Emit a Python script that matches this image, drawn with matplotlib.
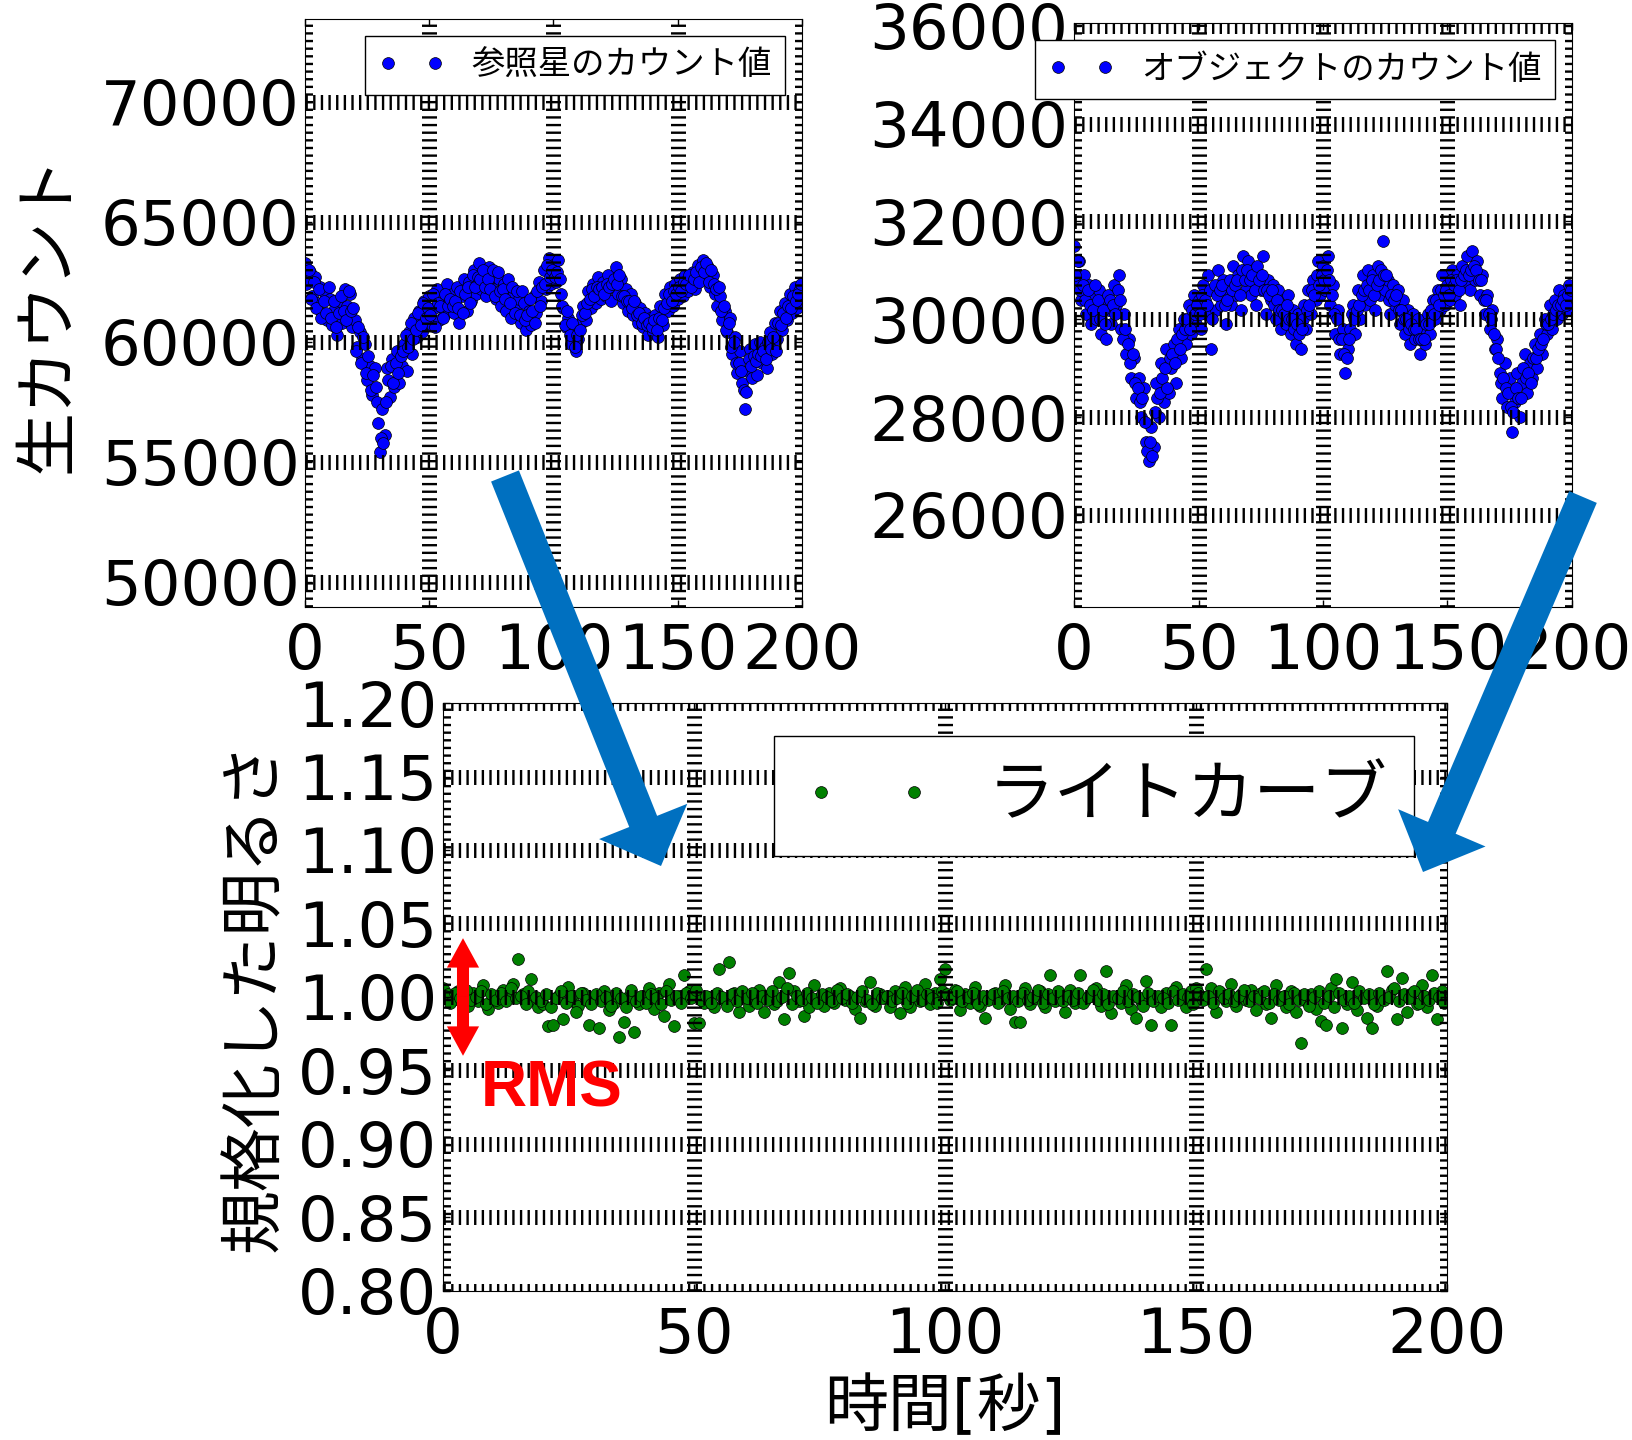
import numpy as np
import matplotlib.pyplot as plt
from matplotlib.patches import FancyArrow

plt.rcParams['font.family'] = ['DejaVu Sans', 'Noto Sans CJK JP']
plt.rcParams['lines.scale_dashes'] = False

# 時刻 [秒]：整数秒と、その間の 0.5 秒
time_s = np.arange(0, 201)
time_half = np.arange(0.5, 200, 1.0)

# 参照星のカウント値（整数秒）
ref_counts = [
    63300, 62600, 62900, 61900, 62700, 61600, 62300, 61200, 62000, 60900,
    61800, 60700, 61400, 60300, 61700, 60800, 62200, 61500, 62000, 60600,
    60900, 59800, 60400, 59300, 59900, 58400, 59000, 57800, 58900, 57500,
    55400, 57200, 56100, 58900, 57700, 59300, 58100, 59600, 58300, 59000,
    59900, 58800, 60400, 59500, 61000, 60200, 61300, 60400, 61700, 60800,
    61900, 60700, 61400, 62200, 60900, 61800, 61100, 62400, 61300, 62000,
    61200, 62300, 60800, 61900, 62600, 61300, 62500, 61700, 63000, 62000,
    63300, 62200, 62900, 61900, 63100, 62400, 62700, 61800, 62600, 61500,
    62400, 61300, 62200, 61000, 62000, 61400, 61800, 60800, 61600, 60500,
    61300, 60700, 61900, 61200, 62500, 61700, 63000, 62200, 63500, 62400,
    63200, 62500, 63400, 62000, 61400, 60600, 61000, 59900, 60500, 59600,
    60100, 60800, 61500, 60900, 62100, 61400, 62400, 61600, 62700, 61800,
    62500, 61900, 62800, 61700, 62300, 63100, 62000, 62600, 61600, 62200,
    61300, 62000, 61100, 61600, 60800, 61400, 60600, 61200, 60300, 61000,
    60400, 61100, 60200, 61500, 60700, 62000, 61300, 62300, 61500, 62400,
    61800, 62600, 61900, 62800, 62100, 62500, 62900, 62200, 63200, 62600,
    63400, 62700, 63100, 62300, 62800, 62000, 61500, 61900, 60900, 61300,
    60400, 61000, 59500, 60200, 58700, 59600, 58300, 57200, 58800, 59700,
    58500, 59900, 58600, 60000, 59100, 59800, 58900, 60400, 59500, 60800,
    60100, 61300, 60500, 61600, 60900, 62000, 61200, 62300, 61400, 62100,
    61700,
]
# 参照星のカウント値（0.5 秒）
ref_counts_half = [
    62400, 63000, 61800, 62500, 61400, 62200, 61000, 61700, 61200, 62300,
    61000, 61700, 60600, 61200, 61900, 61300, 60900, 62100, 61300, 61400,
    59600, 60600, 59100, 60200, 58700, 59400, 58000, 58600, 58100, 56600,
    56000, 55800, 57500, 58400, 59000, 58300, 59100, 58700, 59400, 59600,
    60300, 59800, 60800, 60100, 60500, 61200, 60700, 61600, 61000, 61400,
    61100, 62000, 60600, 61600, 61500, 61000, 62000, 61500, 61800, 61500,
    61700, 61400, 62100, 61200, 62000, 62300, 61600, 62800, 62300, 62700,
    62600, 63000, 62300, 62600, 62200, 63000, 61900, 62900, 62100, 62200,
    61800, 62600, 61600, 62300, 61200, 62100, 61100, 62100, 60900, 61100,
    61800, 61300, 60800, 62100, 61500, 62300, 62400, 63200, 62700, 63000,
    62700, 62900, 62600, 61500, 60700, 61300, 60300, 60800, 59800, 60300,
    60500, 61100, 61200, 61600, 61800, 62200, 61900, 62300, 62200, 62300,
    62000, 62400, 62300, 62400, 62600, 62400, 62800, 61900, 61900, 61700,
    61700, 61400, 61700, 61100, 61200, 60800, 61000, 60700, 60800, 60600,
    60900, 60500, 61000, 60900, 61400, 61600, 62000, 61700, 62100, 62000,
    62300, 62100, 62500, 62400, 62800, 62300, 62600, 62900, 62500, 63100,
    62900, 63300, 62500, 63000, 62400, 62200, 62300, 61300, 61500, 60500,
    60800, 59800, 60000, 59100, 59100, 58800, 58000, 57900, 59300, 59000,
    59400, 59200, 59500, 59400, 59600, 59300, 60000, 59700, 60200, 59600,
    60800, 60700, 61200, 61000, 61500, 61400, 61900, 61700, 62000, 62400,
]

# オブジェクトのカウント値（整数秒）
obj_counts = [
    31500, 30800, 31200, 30400, 30900, 30100, 30700, 29900, 30500, 30000,
    30600, 29700, 30300, 29600, 30200, 29900, 30700, 30300, 30900, 29800,
    30100, 29300, 29600, 28800, 29200, 28400, 28800, 28000, 28600, 27500,
    27100, 27800, 27400, 28700, 28000, 29100, 28300, 29400, 28500, 29000,
    29500, 28700, 29800, 29200, 30000, 29500, 30300, 29700, 30500, 29900,
    30400, 29800, 30700, 30100, 30900, 29400, 30600, 30200, 31000, 30300,
    30800, 29900, 30600, 30300, 31100, 30500, 30900, 30200, 31300, 30600,
    31200, 30500, 31000, 30300, 30900, 30600, 31300, 30100, 30800, 30400,
    30700, 30000, 30600, 29800, 30400, 29900, 30500, 29700, 30200, 29500,
    30100, 29400, 30000, 29800, 30600, 30100, 30800, 30400, 31200, 30500,
    31100, 30600, 31300, 30300, 30700, 29700, 30200, 29300, 29800, 28900,
    29400, 29800, 30300, 29700, 30600, 30000, 30900, 30300, 31000, 30400,
    30900, 30200, 31100, 30500, 31600, 30600, 30800, 30100, 30700, 30300,
    30600, 29900, 30400, 29700, 30200, 29500, 30100, 29600, 30000, 29300,
    29800, 29500, 30100, 29700, 30400, 30000, 30600, 30200, 30900, 30300,
    30700, 30400, 31000, 30500, 30900, 30300, 31100, 30700, 31300, 30600,
    31400, 30800, 31200, 30500, 30900, 30100, 30500, 29800, 30200, 29400,
    29600, 28900, 28400, 29100, 28200, 28800, 27700, 28300, 28900, 28000,
    28700, 29300, 28500, 29100, 28800, 29500, 29000, 29700, 29300, 30000,
    29700, 30300, 29800, 30400, 30000, 30600, 30100, 30500, 30200, 30700,
    30400,
]
# オブジェクトのカウント値（0.5 秒）
obj_counts_half = [
    30900, 31200, 30600, 30700, 30400, 30600, 30300, 30200, 30700, 30400,
    30000, 30200, 29900, 30500, 30400, 30300, 30100, 30600, 30400, 29600,
    29800, 29500, 29100, 29300, 28700, 28600, 28300, 28400, 27900, 27300,
    27500, 27200, 28100, 28400, 28500, 28800, 29000, 28600, 29200, 29300,
    29100, 29600, 29400, 29700, 29800, 30000, 29800, 30200, 30100, 30300,
    30100, 30500, 30400, 30300, 30600, 30000, 30700, 30500, 30600, 30700,
    30300, 30400, 30800, 30600, 30700, 30800, 30500, 31000, 30800, 31000,
    30800, 30900, 30600, 31100, 30800, 30900, 30600, 30600, 30500, 30600,
    30300, 30400, 30200, 30200, 30100, 30300, 30000, 30000, 29800, 29900,
    29700, 29800, 30300, 30200, 30300, 30600, 30500, 30900, 30700, 30900,
    30800, 31000, 30800, 30500, 30100, 30000, 29600, 29600, 29300, 29200,
    29600, 30100, 30000, 30200, 30300, 30500, 30600, 30700, 30600, 30800,
    30500, 30700, 30800, 31000, 30900, 30900, 30400, 30500, 30400, 30500,
    30200, 30200, 30000, 30000, 29800, 29900, 29800, 29800, 29600, 29600,
    29600, 29900, 29900, 30200, 30100, 30400, 30300, 30600, 30500, 30600,
    30500, 30800, 30700, 30800, 30600, 30800, 30900, 31000, 30900, 31000,
    31100, 31000, 30800, 30800, 30400, 30400, 30100, 30000, 29700, 29400,
    29200, 28700, 28800, 28600, 28500, 28200, 28100, 28600, 28400, 28400,
    29000, 28800, 28900, 28700, 29200, 29200, 29400, 29500, 29600, 29900,
    29900, 30000, 30100, 30200, 30300, 30300, 30400, 30300, 30500, 30600,
]

# 規格化した明るさ（整数秒）
norm_flux = [
    1.006, 1.002, 0.998, 1.004, 1.000, 0.994, 1.003, 0.997, 1.008, 0.992,
    1.001, 0.996, 1.005, 0.999, 1.009, 1.026, 1.002, 1.004, 0.998, 0.993,
    0.995, 0.980, 0.981, 1.001, 0.985, 1.007, 0.997, 0.994, 1.003, 0.981,
    0.999, 0.979, 1.004, 0.991, 0.996, 0.973, 0.983, 1.001, 0.976, 0.995,
    0.998, 1.006, 0.992, 1.003, 0.987, 1.009, 0.980, 1.001, 1.015, 1.004,
    0.982, 0.982, 0.996, 1.000, 0.993, 1.019, 0.998, 1.024, 1.003, 0.990,
    1.002, 0.994, 0.997, 1.005, 0.990, 1.001, 0.995, 1.010, 0.985, 1.016,
    1.004, 0.997, 0.987, 0.993, 1.008, 0.999, 0.994, 1.003, 0.996, 1.006,
    0.998, 1.001, 0.992, 0.986, 0.997, 1.010, 0.994, 1.002, 0.999, 0.993,
    1.004, 0.989, 1.007, 0.993, 1.001, 0.997, 1.009, 0.995, 1.003, 1.012,
    1.019, 0.998, 1.005, 0.991, 1.002, 0.996, 1.007, 0.994, 0.986, 1.000,
    1.003, 0.997, 1.008, 0.992, 0.983, 0.983, 1.006, 0.995, 0.999, 1.004,
    0.993, 1.015, 0.997, 1.002, 0.990, 1.005, 0.996, 1.015, 0.998, 1.001,
    1.006, 0.994, 1.018, 0.989, 1.000, 0.996, 1.008, 0.992, 0.986, 0.997,
    1.011, 0.981, 0.998, 0.993, 1.003, 0.981, 1.007, 0.999, 0.993, 1.004,
    1.006, 1.001, 1.019, 1.006, 0.990, 1.003, 0.997, 1.009, 0.994, 1.002,
    0.998, 1.005, 0.991, 1.003, 0.995, 0.986, 1.008, 1.000, 0.993, 1.004,
    0.990, 0.969, 0.997, 1.002, 0.992, 0.984, 0.981, 1.006, 1.012, 0.979,
    0.995, 1.010, 0.991, 1.001, 0.986, 0.979, 0.994, 0.999, 1.018, 1.005,
    0.985, 1.013, 0.990, 1.003, 0.995, 1.008, 0.993, 1.015, 0.985, 1.004,
    0.998,
]
# 規格化した明るさ（0.5 秒）
norm_flux_half = [
    1.001, 0.996, 1.003, 0.999, 1.005, 0.998, 1.000, 1.004, 0.995, 1.002,
    0.998, 1.003, 0.997, 1.006, 0.999, 1.001, 0.995, 1.012, 1.000, 0.997,
    1.002, 0.993, 0.999, 1.004, 0.996, 1.001, 0.990, 1.003, 0.998, 0.995,
    1.002, 0.997, 1.000, 0.994, 1.003, 0.999, 0.993, 1.005, 0.997, 1.001,
    0.996, 1.002, 0.999, 0.995, 1.004, 0.998, 1.001, 0.996, 1.003, 0.999,
    1.005, 0.998, 1.001, 0.996, 1.003, 1.000, 0.994, 1.002, 0.997, 1.004,
    0.999, 1.003, 0.996, 1.001, 0.998, 1.004, 0.997, 1.000, 1.006, 0.995,
    1.001, 0.998, 1.003, 0.999, 0.996, 1.002, 1.000, 0.997, 1.005, 0.999,
    1.002, 0.996, 1.000, 1.004, 0.998, 0.995, 1.003, 0.999, 1.001, 0.997,
    0.999, 1.003, 0.996, 1.001, 1.005, 0.998, 1.002, 0.999, 0.996, 1.004,
    1.002, 0.999, 1.004, 0.997, 1.000, 1.003, 0.995, 1.001, 0.998, 1.002,
    0.996, 1.004, 0.999, 1.001, 0.997, 1.003, 0.998, 1.000, 1.005, 0.996,
    1.002, 0.999, 1.004, 0.997, 1.001, 0.998, 1.003, 0.996, 1.000, 1.005,
    0.998, 1.002, 0.995, 1.001, 0.999, 1.004, 0.997, 1.002, 1.000, 0.994,
    1.003, 0.997, 1.001, 0.999, 0.996, 1.004, 0.998, 1.002, 1.000, 0.995,
    1.003, 0.998, 1.001, 0.996, 1.004, 0.999, 1.002, 0.997, 1.001, 1.005,
    0.997, 1.001, 0.999, 1.004, 0.996, 1.002, 0.998, 1.001, 0.995, 1.003,
    0.998, 1.002, 0.994, 1.000, 1.004, 0.996, 1.001, 0.993, 1.003, 0.998,
    1.001, 0.996, 1.004, 0.999, 1.002, 0.995, 1.003, 0.998, 1.000, 1.006,
    0.997, 1.002, 0.999, 1.004, 0.996, 1.001, 0.998, 1.003, 1.000, 0.996,
]

x_ticks = [0, 50, 100, 150, 200]
ref_ticks = [50000, 55000, 60000, 65000, 70000]
obj_ticks = [26000, 28000, 30000, 32000, 34000, 36000]
lc_ticks = [0.80, 0.85, 0.90, 0.95, 1.00, 1.05, 1.10, 1.15, 1.20]

rms_center = 1.00
rms_half = 0.04

t_all = np.concatenate([time_s, time_half])

fig = plt.figure(figsize=(16.32, 14.4), dpi=100)
ax_ref = fig.add_axes([0.1869, 0.5785, 0.3045, 0.4083])
ax_obj = fig.add_axes([0.6581, 0.5785, 0.3051, 0.4056])
ax_lc = fig.add_axes([0.2714, 0.1035, 0.6152, 0.4083])


def style_axes(ax):
    ax.set_xlim(0, 200)
    ax.set_xticks(x_ticks)
    ax.tick_params(direction='in', top=True, right=True, length=5, width=1,
                   labelsize=45, pad=4)
    ax.tick_params(axis='x', pad=11)
    # 太い点線のグリッド（データの上に描く）
    ax.grid(True, color='k', linewidth=10.8, linestyle=(0, (1.7, 3.8)))
    ax.set_axisbelow(False)


marker_kw = dict(linestyle='none', marker='o', mec='k', mew=0.5, ms=8.5)
legend_kw = dict(loc='upper right', numpoints=2, handlelength=2.0,
                 handletextpad=0.8, borderpad=0.4, borderaxespad=0.5,
                 fancybox=False, edgecolor='k', framealpha=1)

# 参照星
ax_ref.plot(t_all, np.concatenate([ref_counts, ref_counts_half]), color='b',
            label='参照星のカウント値', **marker_kw)
style_axes(ax_ref)
ax_ref.set_ylim(48960, 73440)
ax_ref.set_yticks(ref_ticks)
ax_ref.legend(fontsize=24, **legend_kw)
ax_ref.set_ylabel('生カウント', fontsize=46)
ax_ref.yaxis.set_label_coords(-0.453, 0.5)

# オブジェクト
ax_obj.plot(t_all, np.concatenate([obj_counts, obj_counts_half]), color='b',
            label='オブジェクトのカウント値', **marker_kw)
style_axes(ax_obj)
ax_obj.set_ylim(24120, 36060)
ax_obj.set_yticks(obj_ticks)
ax_obj.legend(fontsize=24, **legend_kw)

# ライトカーブ
ax_lc.plot(t_all, np.concatenate([norm_flux, norm_flux_half]), color='g',
           label='ライトカーブ', **marker_kw)
style_axes(ax_lc)
ax_lc.set_ylim(0.80, 1.20)
ax_lc.set_yticks(lc_ticks)
ax_lc.set_yticklabels([f'{v:.2f}' for v in lc_ticks])
ax_lc.legend(fontsize=48, **legend_kw)
ax_lc.set_ylabel('規格化した明るさ', fontsize=46)
ax_lc.yaxis.set_label_coords(-0.156, 0.5)
ax_lc.set_xlabel('時間[秒]', fontsize=46)
ax_lc.xaxis.set_label_coords(0.5, -0.145)

# RMS の幅を示す赤い両矢印
for sign in (1, -1):
    ax_lc.add_patch(FancyArrow(4, rms_center, 0, sign * rms_half, width=2.4,
                               head_width=6.4, head_length=0.02,
                               length_includes_head=True, color='red',
                               lw=0, zorder=6))
ax_lc.text(7.6, 0.937, 'RMS', color='red', fontsize=46, fontweight='bold',
           family='Liberation Sans', va='center', ha='left', zorder=6)

# 上の二つのパネルから下のパネルへの青い矢印（インチ単位）
arrow_kw = dict(width=0.30, head_width=0.95, head_length=0.48,
                length_includes_head=True, color='#0070C0', lw=0,
                transform=fig.dpi_scale_trans, zorder=10)
fig.add_artist(FancyArrow(5.05, 9.64, 1.56, -3.90, **arrow_kw))
fig.add_artist(FancyArrow(15.83, 9.43, -1.60, -3.75, **arrow_kw))

plt.savefig('out.png', dpi=100)
